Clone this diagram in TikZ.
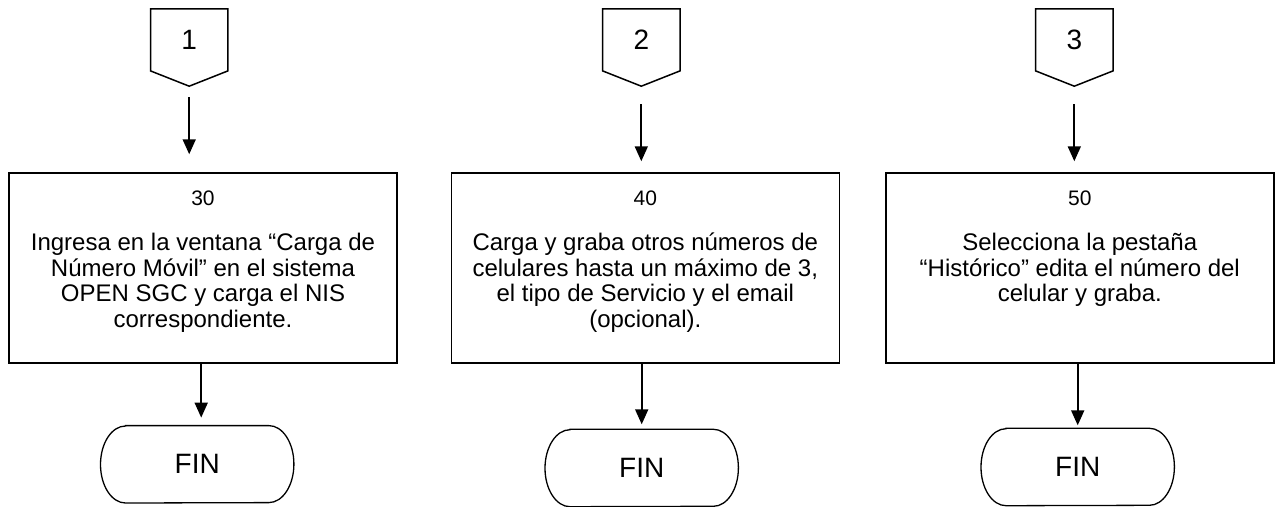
\documentclass[tikz,border=0pt]{standalone}
\usepackage{fontspec}
\setmainfont{Liberation Sans}
\usetikzlibrary{arrows.meta,calc}
\begin{document}
\begin{tikzpicture}[x=1pt,y=-1pt,
  ln/.style={line width=1.5pt, draw=black},
  conn/.style={minimum width=77pt, minimum height=61.7pt, inner sep=0pt, font=\fontsize{28}{30}\selectfont},
  procbox/.style={ln, minimum width=388pt, minimum height=190pt, inner sep=0pt},
  stepnum/.style={anchor=base, inner sep=0pt, font=\fontsize{21}{23}\selectfont},
  body/.style={anchor=north, inner sep=0pt, align=center, font=\fontsize{24}{25.5}\selectfont},
  term/.style={minimum width=193pt, minimum height=77pt, inner sep=0pt, font=\fontsize{28}{30}\selectfont},
  arr/.style={line width=1.8pt, -{Triangle[length=15pt,width=13pt]}}
]
\useasboundingbox (0,0) rectangle (1276,506);

% off-page connectors
\node[conn] (c1) at (189.2,39.85) {1};
\node[conn] (c2) at (641.3,39.85) {2};
\node[conn] (c3) at (1074.3,39.85) {3};
\foreach \n in {c1,c2,c3}{
  \draw[ln] (\n.north west) -- (\n.north east) -- (\n.south east)
    -- ($(\n.south)+(0,15.3)$) -- (\n.south west) -- cycle;
  \coordinate (\n tip) at ($(\n.south)+(0,15.3)$);
}

% process boxes
\node[procbox] (b1) at (203,268) {};
\node[procbox] (b2) at (645.3,268) {};
\node[procbox] (b3) at (1079.8,268) {};

\node[stepnum] (n1) at (203,205) {30};
\node[stepnum] (n2) at (645.3,205) {40};
\node[stepnum] (n3) at (1079.8,205) {50};

\node[body] (t1) at (203,230.5) {\rule{0pt}{20pt}Ingresa en la ventana “Carga de\\Número Móvil” en el sistema\\OPEN SGC y carga el NIS\\correspondiente.};
\node[body] (t2) at (645.3,230.5) {\rule{0pt}{20pt}Carga y graba otros números de\\celulares hasta un máximo de 3,\\el tipo de Servicio y el email\\(opcional).};
\node[body] (t3) at (1079.8,230.5) {\rule{0pt}{20pt}Selecciona la pestaña\\“Histórico” edita el número del\\celular y graba.};

% terminators
\node[term] (f1) at (197.2,464.3) {FIN};
\node[term] (f2) at (641.7,468) {FIN};
\node[term] (f3) at (1077.7,467) {FIN};
\foreach \n in {f1,f2,f3}{
  \draw[line width=1.3pt] ($(\n.north west)+(25,0)$) -- ($(\n.north east)+(-25,0)$)
    arc[start angle=90,end angle=-90,x radius=25pt,y radius=38.5pt]
    -- ($(\n.south west)+(25,0)$)
    arc[start angle=270,end angle=90,x radius=25pt,y radius=38.5pt] -- cycle;
}

% connectors
\draw[arr, shorten <=11pt, shorten >=18pt] (c1tip) -- (c1tip |- b1.north);
\draw[arr, shorten <=18pt, shorten >=11pt] (c2tip) -- (c2tip |- b2.north);
\draw[arr, shorten <=18pt, shorten >=11pt] (c3tip) -- (c3tip |- b3.north);

\draw[arr, shorten >=8pt] ([xshift=4pt]f1.north |- b1.south) -- ([xshift=4pt]f1.north);
\draw[arr, shorten >=5pt] (f2.north |- b2.south) -- (f2.north);
\draw[arr, shorten >=3pt] (f3.north |- b3.south) -- (f3.north);
\end{tikzpicture}
\end{document}
